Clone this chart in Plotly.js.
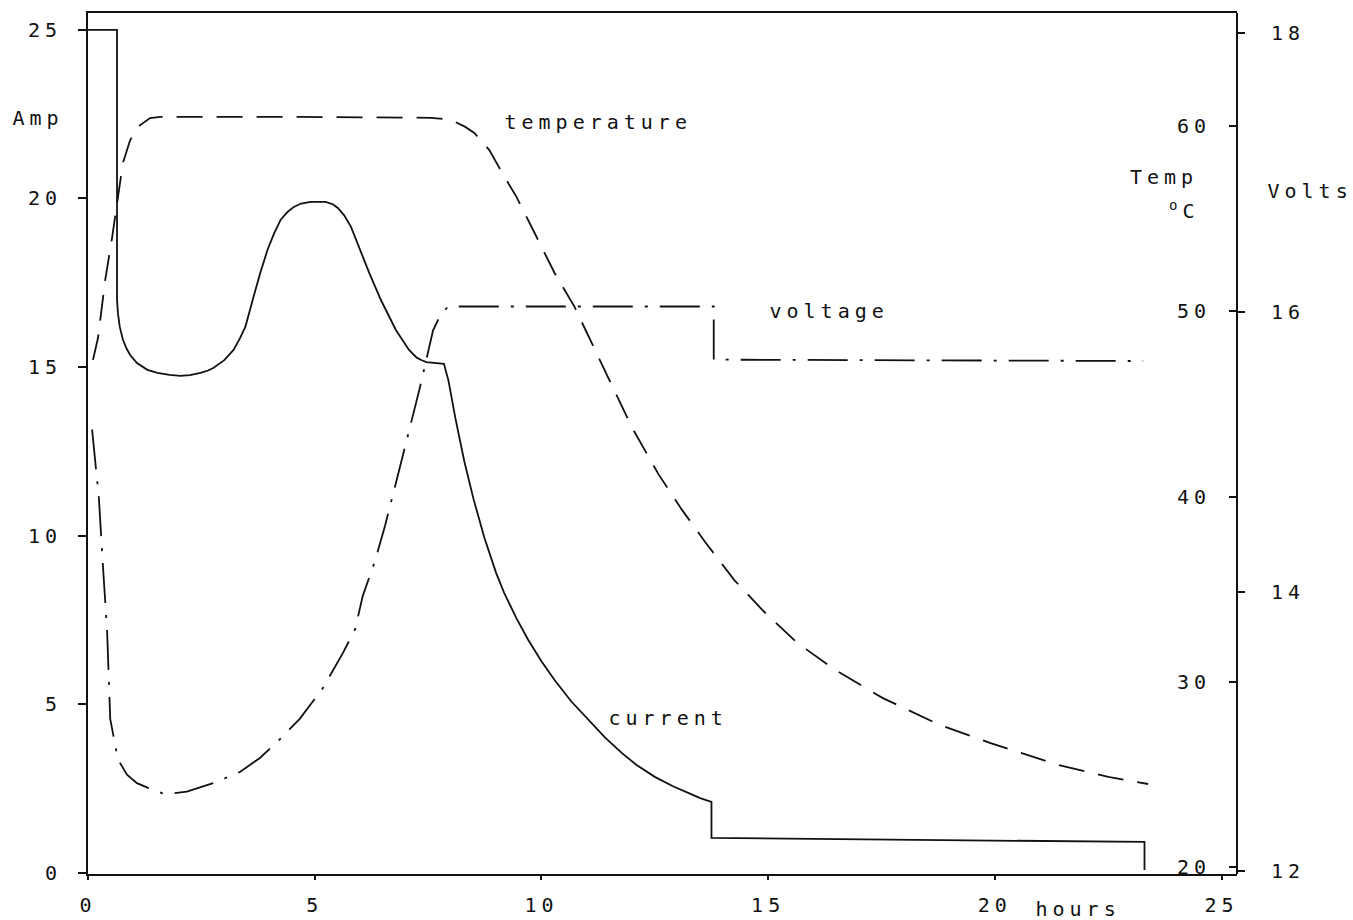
<!DOCTYPE html>
<html>
<head>
<meta charset="utf-8">
<script src="https://cdn.plot.ly/plotly-3.0.1.min.js"></script>
<style>
  html, body { margin: 0; padding: 0; background: #fff; }
  #chart { width: 1353px; height: 920px; }
  #chart text { letter-spacing: 5px; }
</style>
</head>
<body>
<div id="chart"></div>
<script>
// ---- data ----
const currentHours = [0, 0.64, 0.64, 0.66, 0.70, 0.77, 0.85, 0.93, 1.08, 1.31, 1.53, 1.80, 2.04, 2.25, 2.48, 2.65, 2.77,
  3.00, 3.21, 3.35, 3.47, 3.56, 3.65, 3.80, 3.96, 4.10, 4.25, 4.40, 4.54, 4.70, 4.91, 5.24, 5.40, 5.51, 5.65, 5.80,
  5.97, 6.20, 6.46, 6.79, 7.08, 7.25, 7.35, 7.46, 7.85, 7.95, 8.10, 8.30, 8.50, 8.74, 9.00, 9.18, 9.45, 9.71, 10.00,
  10.29, 10.65, 11.04, 11.40, 11.77, 12.10, 12.50, 12.90, 13.25, 13.50, 13.75, 13.75, 23.30, 23.30];
const currentAmps = [25.0, 25.0, 17.0, 16.6, 16.2, 15.81, 15.55, 15.36, 15.12, 14.92, 14.83, 14.77, 14.74, 14.76, 14.83, 14.90, 14.98,
  15.20, 15.51, 15.85, 16.19, 16.60, 17.08, 17.80, 18.48, 18.95, 19.37, 19.60, 19.75, 19.85, 19.90, 19.90, 19.83, 19.72, 19.50, 19.16,
  18.56, 17.80, 16.99, 16.10, 15.51, 15.28, 15.21, 15.15, 15.10, 14.60, 13.50, 12.20, 11.10, 9.95, 8.90, 8.30, 7.55, 6.91, 6.28,
  5.72, 5.10, 4.54, 4.02, 3.56, 3.20, 2.85, 2.57, 2.37, 2.22, 2.11, 1.04, 0.92, 0.09];

const tempHours = [0.11, 0.22, 0.27, 0.38, 0.53, 0.77, 0.93, 1.15, 1.37, 1.59, 4.69, 7.57, 8.01, 8.32, 8.52, 8.85,
  9.16, 9.45, 9.85, 10.29, 10.73, 11.11, 11.48, 11.99, 12.59, 13.10, 13.61, 14.25, 14.87, 15.64, 16.48, 17.52,
  18.78, 19.89, 21.39, 22.50, 23.38];
const tempValues = [47.38, 48.56, 49.54, 51.70, 53.96, 58.01, 59.25, 60.06, 60.44, 60.50, 60.50, 60.45, 60.34, 59.96, 59.63, 58.71,
  57.37, 56.18, 54.23, 52.07, 50.24, 48.29, 46.30, 43.76, 41.17, 39.28, 37.55, 35.50, 33.88, 32.10, 30.64, 29.13,
  27.67, 26.70, 25.51, 24.86, 24.48];

const voltHours = [0.09, 0.18, 0.24, 0.33, 0.42, 0.49, 0.57, 0.66, 0.86, 1.08, 1.30, 1.70, 2.18, 2.76, 3.35, 3.79,
  4.19, 4.67, 5.18, 5.62, 5.89, 6.06, 6.33, 6.55, 6.77, 6.99, 7.32, 7.61, 7.76, 7.94, 13.80, 13.80, 23.27];
const voltValues = [15.16, 14.89, 14.67, 14.18, 13.73, 13.09, 12.94, 12.80, 12.69, 12.63, 12.60, 12.55, 12.57, 12.63, 12.71, 12.81,
  12.93, 13.09, 13.31, 13.56, 13.73, 13.97, 14.22, 14.47, 14.75, 15.03, 15.46, 15.87, 15.97, 16.04, 16.04, 15.66, 15.65];

const xTicks = [0, 5, 10, 15, 20, 25];
const ampTicks = [0, 5, 10, 15, 20, 25];
const tempTicks = [20, 30, 40, 50, 60];
const voltTicks = [12, 14, 16, 18];

// ---- drawing ----
const FONT = "DejaVu Sans Mono";
const ink = "#111";

const traces = [
  { x: currentHours, y: currentAmps, type: "scatter", mode: "lines", yaxis: "y",
    line: { color: ink, width: 1.8 }, hoverinfo: "skip", showlegend: false },
  { x: tempHours, y: tempValues, type: "scatter", mode: "lines", yaxis: "y2",
    line: { color: ink, width: 1.8, dash: "26px,14px" }, hoverinfo: "skip", showlegend: false },
  { x: voltHours, y: voltValues, type: "scatter", mode: "lines", yaxis: "y3",
    line: { color: ink, width: 1.8, dash: "40px,12px,3px,12px" }, hoverinfo: "skip", showlegend: false }
];

const tickFont = { family: FONT, size: 20, color: ink };
const L = 88, R = 1237, T = 13, B = 874;
const px = v => (v - L) / (R - L);
const py = v => (B - v) / (B - T);

function ann(text, x, y, size) {
  return { text: text, x: px(x), y: py(y), xref: "paper", yref: "paper",
    xanchor: "center", yanchor: "middle", showarrow: false,
    font: { family: FONT, size: size || 20, color: ink } };
}

const layout = {
  width: 1353, height: 920,
  margin: { l: L, r: 1353 - R, t: T, b: 920 - B, pad: 0 },
  paper_bgcolor: "#fff", plot_bgcolor: "#fff",
  showlegend: false,
  xaxis: {
    range: [0, 25.34], tickvals: xTicks, ticktext: xTicks.map(String),
    showgrid: false, zeroline: false, showline: true, mirror: true,
    linecolor: ink, linewidth: 2, ticks: "outside", ticklen: 4, tickwidth: 2, tickcolor: ink,
    tickfont: tickFont, ticklabelstandoff: 8, ticklabeloverflow: "allow"
  },
  yaxis: {
    range: [-0.03, 25.5], tickvals: ampTicks, ticktext: ampTicks.map(String),
    showgrid: false, zeroline: false, showline: true,
    linecolor: ink, linewidth: 2, ticks: "outside", ticklen: 8, tickwidth: 2, tickcolor: ink,
    tickfont: tickFont, ticklabelstandoff: 12
  },
  yaxis2: {
    range: [19.62, 66.11], tickvals: tempTicks, ticktext: tempTicks.map(String),
    overlaying: "y", side: "left", anchor: "free", position: 1,
    showgrid: false, zeroline: false, showline: true,
    linecolor: ink, linewidth: 2, ticks: "outside", ticklen: 7, tickwidth: 2, tickcolor: ink,
    tickfont: tickFont, ticklabelstandoff: 14
  },
  yaxis3: {
    range: [11.98, 18.14], tickvals: voltTicks, ticktext: voltTicks.map(String),
    overlaying: "y", side: "right", anchor: "x",
    showgrid: false, zeroline: false, showline: false,
    ticks: "outside", ticklen: 7, tickwidth: 2, tickcolor: ink,
    tickfont: tickFont, ticklabelstandoff: 22
  },
  annotations: [
    ann("Amp", 38, 118),
    ann("temperature", 598, 122),
    ann("voltage", 829, 311),
    ann("current", 668, 718),
    ann("Temp", 1164, 177),
    ann("<sup>o</sup>C", 1184, 210),
    ann("Volts", 1310, 191),
    ann("hours", 1078, 909)
  ]
};

Plotly.newPlot("chart", traces, layout, { displayModeBar: false, staticPlot: true });
</script>
</body>
</html>
